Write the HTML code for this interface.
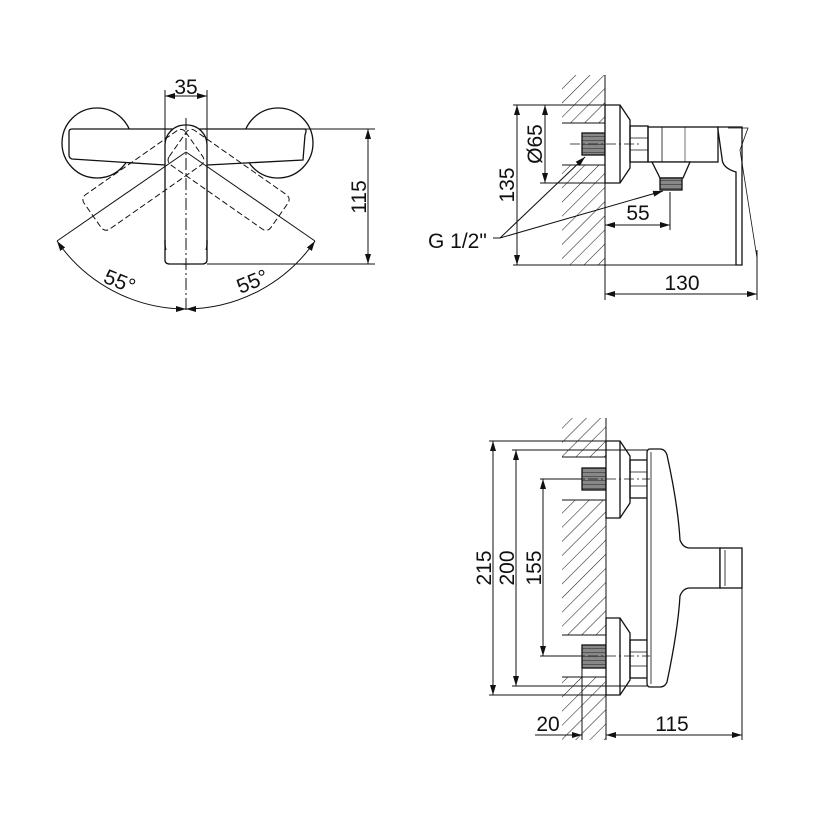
<!DOCTYPE html>
<html><head><style>
body{margin:0;background:#fff;}
text{font-family:"Liberation Sans",Arial,sans-serif;font-size:21px;fill:#111;}
</style></head><body>
<svg width="813" height="813" viewBox="0 0 813 813" xmlns="http://www.w3.org/2000/svg">
<defs>
<pattern id="h" patternUnits="userSpaceOnUse" width="10" height="10" patternTransform="rotate(45)">
<line x1="0" y1="0" x2="0" y2="10" stroke="#222" stroke-width="1.1"/>
</pattern>
<pattern id="t" patternUnits="userSpaceOnUse" width="4" height="4">
<rect width="4" height="4" fill="#888"/><line x1="0" y1="0" x2="4" y2="0" stroke="#333" stroke-width="1.2"/>
</pattern>
<marker id="a" markerWidth="10" markerHeight="6" refX="10" refY="3" orient="auto-start-reverse" markerUnits="userSpaceOnUse">
<path d="M0,0 L10,3 L0,6 z" fill="#111"/>
</marker>
</defs>
<g fill="none" stroke="#111" stroke-width="1.3">
<!-- VIEW 1 -->
<circle cx="97" cy="143" r="35"/>
<circle cx="278" cy="143" r="35"/>
<path d="M72,129 L305,129 Q307,130 305,135 L303,160 L207,165 L165,165 L72,159 Q69,158 69,155 L69,132 Q69,129 72,129 Z" fill="#fff"/>
<rect x="165" y="125" width="42" height="139" rx="20" ry="20" fill="#fff"/>
<rect x="163" y="250" width="46" height="14" fill="#fff" stroke="none"/>
<path d="M165,240 L165,260 Q165,264 170,264 L202,264 Q207,264 207,260 L207,240"/>
<g stroke-dasharray="6,3" stroke-width="1">
<rect x="165" y="140" width="42" height="124" rx="6" transform="rotate(55,186,150)"/>
<rect x="165" y="140" width="42" height="124" rx="6" transform="rotate(-55,186,150)"/>
</g>
<line x1="186" y1="118" x2="186" y2="312" stroke-dasharray="12,3,2,3" stroke-width="1"/>
<line x1="186" y1="152" x2="57" y2="241" stroke-width="1"/>
<line x1="186" y1="152" x2="315" y2="241" stroke-width="1"/>
<path d="M57,241 A157,157 0 0 0 186,309" marker-start="url(#a)" marker-end="url(#a)" stroke-width="1"/>
<path d="M186,309 A157,157 0 0 0 315,241" marker-start="url(#a)" marker-end="url(#a)" stroke-width="1"/>
<g stroke-width="1">
<line x1="165" y1="90" x2="165" y2="165"/><line x1="207" y1="90" x2="207" y2="165"/>
<line x1="165" y1="96" x2="207" y2="96" marker-start="url(#a)" marker-end="url(#a)"/>
<line x1="300" y1="129" x2="375" y2="129"/><line x1="207" y1="264" x2="375" y2="264"/>
<line x1="368" y1="129" x2="368" y2="264" marker-start="url(#a)" marker-end="url(#a)"/>
</g>
</g>
<text x="186" y="94" text-anchor="middle">35</text>
<text transform="translate(366,197) rotate(-90)" text-anchor="middle">115</text>
<text transform="translate(117,288) rotate(22)" text-anchor="middle">55°</text>
<text transform="translate(255,288) rotate(-22)" text-anchor="middle">55°</text>

<!-- VIEW 2 -->
<g fill="none" stroke="#111" stroke-width="1.3">
<rect x="562" y="75" width="43" height="48" fill="url(#h)" stroke="none"/>
<rect x="562" y="165" width="43" height="100" fill="url(#h)" stroke="none"/>
<line x1="562" y1="123" x2="605" y2="123" stroke-width="1"/>
<line x1="562" y1="165" x2="605" y2="165" stroke-width="1"/>
<line x1="605" y1="75" x2="605" y2="300" stroke-width="1"/>
<rect x="582" y="133" width="23" height="22" fill="url(#t)"/>
<path d="M605,105 L620,105 L630,120 L630,168 L620,183 L605,183 Z" fill="#fff"/>
<line x1="620" y1="105" x2="620" y2="183"/>
<rect x="630" y="126" width="18" height="36"/>
<line x1="630" y1="138" x2="648" y2="138" stroke-width="0.8"/><line x1="630" y1="150" x2="648" y2="150" stroke-width="0.8"/>
<rect x="648" y="127" width="70" height="35"/>
<line x1="662" y1="127" x2="662" y2="162" stroke-width="0.8"/>
<line x1="685" y1="127" x2="685" y2="162" stroke-width="0.6"/>
<path d="M652,162 L690,162 L683,178 L660,178 Z" fill="#fff"/>
<rect x="660" y="178" width="22" height="12" fill="url(#t)"/>
<path d="M718,127 L742,127 L742,265 L736,265 L736,172 Q722,168 722,158 L718,130 Z" fill="#fff"/>
<path d="M728,128 L748,128 L740,150 L757,258" stroke-width="0.8"/>
<line x1="570" y1="144" x2="640" y2="144" stroke-dasharray="10,3,2,3" stroke-width="0.8"/>
<g stroke-width="1">
<line x1="513" y1="105" x2="605" y2="105"/><line x1="513" y1="265" x2="740" y2="265"/>
<line x1="517" y1="105" x2="517" y2="265" marker-start="url(#a)" marker-end="url(#a)"/>
<line x1="540" y1="183" x2="605" y2="183"/>
<line x1="545" y1="105" x2="545" y2="183" marker-start="url(#a)" marker-end="url(#a)"/>
<line x1="670" y1="192" x2="670" y2="230"/>
<line x1="605" y1="225" x2="670" y2="225" marker-start="url(#a)" marker-end="url(#a)"/>
<line x1="757" y1="250" x2="757" y2="300"/>
<line x1="605" y1="294" x2="757" y2="294" marker-start="url(#a)" marker-end="url(#a)"/>
<line x1="493" y1="238" x2="500" y2="238"/>
<line x1="500" y1="238" x2="585" y2="157" marker-end="url(#a)"/>
<line x1="500" y1="238" x2="663" y2="191" marker-end="url(#a)"/>
</g>
</g>
<text transform="translate(514,185) rotate(-90)" text-anchor="middle">135</text>
<text transform="translate(542,144) rotate(-90)" text-anchor="middle">Ø65</text>
<text x="638" y="220" text-anchor="middle">55</text>
<text x="682" y="290" text-anchor="middle">130</text>
<text x="428" y="248">G 1/2"</text>

<!-- VIEW 3 -->
<g fill="none" stroke="#111" stroke-width="1.3">
<rect x="562" y="418" width="44" height="39" fill="url(#h)" stroke="none"/>
<rect x="562" y="500" width="44" height="135" fill="url(#h)" stroke="none"/>
<rect x="562" y="677" width="44" height="63" fill="url(#h)" stroke="none"/>
<g stroke-width="1">
<line x1="562" y1="457" x2="606" y2="457"/><line x1="562" y1="500" x2="606" y2="500"/>
<line x1="562" y1="635" x2="606" y2="635"/><line x1="562" y1="677" x2="606" y2="677"/>
<line x1="606" y1="418" x2="606" y2="740"/>
</g>
<rect x="582" y="468" width="24" height="22" fill="url(#t)"/>
<rect x="582" y="645" width="24" height="23" fill="url(#t)"/>
<path d="M606,441 L620,441 L630,456 L630,503 L620,518 L606,518 Z" fill="#fff"/>
<line x1="620" y1="441" x2="620" y2="518"/>
<path d="M606,618 L620,618 L630,633 L630,680 L620,695 L606,695 Z" fill="#fff"/>
<line x1="620" y1="618" x2="620" y2="695"/>
<rect x="630" y="460" width="18" height="38"/>
<rect x="630" y="640" width="18" height="38"/>
<line x1="630" y1="472" x2="648" y2="472" stroke-width="0.8"/><line x1="630" y1="486" x2="648" y2="486" stroke-width="0.8"/>
<line x1="630" y1="652" x2="648" y2="652" stroke-width="0.8"/><line x1="630" y1="666" x2="648" y2="666" stroke-width="0.8"/>
<path d="M650,449 L660,449 Q665,449 667,455 Q678,505 680,540 Q683,548 690,548 L720,548 L720,588 L690,588 Q683,588 680,596 Q678,630 667,682 Q665,687 660,687 L650,687 Q647,687 647,683 L647,453 Q647,449 650,449 Z" fill="#fff"/>
<line x1="651" y1="452" x2="651" y2="684" stroke-width="0.8"/>
<rect x="720" y="548" width="22" height="40" fill="#fff"/>
<line x1="725" y1="550" x2="725" y2="586" stroke-width="0.8"/>
<line x1="570" y1="479" x2="650" y2="479" stroke-dasharray="10,3,2,3" stroke-width="0.8"/>
<line x1="570" y1="656" x2="650" y2="656" stroke-dasharray="10,3,2,3" stroke-width="0.8"/>
<g stroke-width="1">
<line x1="489" y1="441" x2="606" y2="441"/><line x1="489" y1="695" x2="606" y2="695"/>
<line x1="493" y1="441" x2="493" y2="695" marker-start="url(#a)" marker-end="url(#a)"/>
<line x1="512" y1="450" x2="647" y2="450"/><line x1="512" y1="686" x2="647" y2="686"/>
<line x1="516" y1="450" x2="516" y2="686" marker-start="url(#a)" marker-end="url(#a)"/>
<line x1="540" y1="479" x2="582" y2="479"/><line x1="540" y1="656" x2="582" y2="656"/>
<line x1="543" y1="479" x2="543" y2="656" marker-start="url(#a)" marker-end="url(#a)"/>
<line x1="582" y1="660" x2="582" y2="740"/>
<line x1="742" y1="588" x2="742" y2="740"/>
<line x1="535" y1="735" x2="582" y2="735" marker-end="url(#a)"/>
<line x1="606" y1="735" x2="742" y2="735" marker-start="url(#a)" marker-end="url(#a)"/>
</g>
</g>
<text transform="translate(491,568) rotate(-90)" text-anchor="middle">215</text>
<text transform="translate(514,568) rotate(-90)" text-anchor="middle">200</text>
<text transform="translate(541,568) rotate(-90)" text-anchor="middle">155</text>
<text x="548" y="731" text-anchor="middle">20</text>
<text x="672" y="731" text-anchor="middle">115</text>
</svg>
</body></html>
